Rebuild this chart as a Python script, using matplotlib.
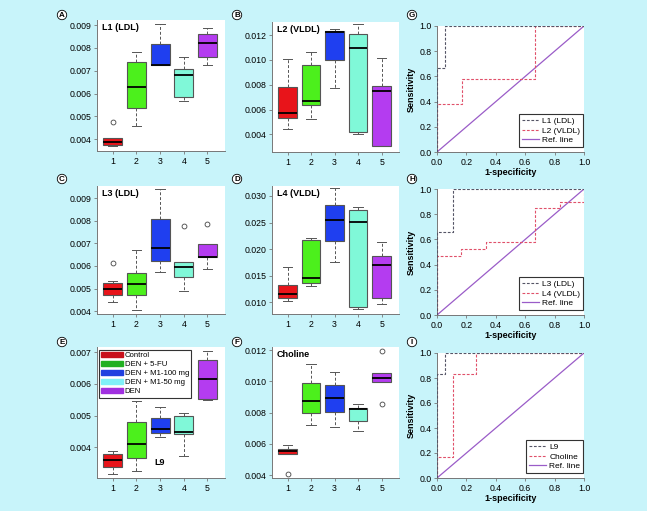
import matplotlib

matplotlib.use("Agg")

import matplotlib.pyplot as plt
from matplotlib.lines import Line2D
from matplotlib.patches import Patch
from matplotlib.ticker import FormatStrFormatter, MultipleLocator

plt.rcParams["font.family"] = ["Liberation Sans", "DejaVu Sans"]

W, H = 647, 511
BG = "#c8f4fa"

GROUPS = ["Control", "DEN + 5-FU", "DEN + M1-100 mg", "DEN + M1-50 mg", "DEN"]
BOX_COLORS = ["#e8141a", "#4cf01c", "#1f3ff0", "#80f8d8", "#b43cf0"]
LEGEND_COLORS = ["#c8101c", "#22b022", "#2040e0", "#80f0f8", "#a030e0"]
POSITIONS = [1, 2, 3, 4, 5]

# box statistics: lower whisker, Q1, median, Q3, upper whisker, outliers
L1_LOW = [0.00371, 0.00460, 0.00724, 0.00569, 0.00724]
L1_Q1 = [0.00375, 0.00536, 0.00725, 0.00585, 0.00759]
L1_MED = [0.00390, 0.00628, 0.00726, 0.00681, 0.00823]
L1_Q3 = [0.00404, 0.00737, 0.00816, 0.00706, 0.00861]
L1_HIGH = [0.00404, 0.00783, 0.00903, 0.00759, 0.00886]
L1_OUT = [[0.00477], [], [], [], []]

L2_LOW = [0.00445, 0.00523, 0.00771, 0.00400, 0.00304]
L2_Q1 = [0.00529, 0.00636, 0.00999, 0.00416, 0.00306]
L2_MED = [0.00569, 0.00671, 0.01222, 0.01098, 0.00749]
L2_Q3 = [0.00784, 0.00958, 0.01235, 0.01208, 0.00792]
L2_HIGH = [0.01004, 0.01060, 0.01248, 0.01286, 0.01012]
L2_OUT = [[], [], [], [], []]

L3_LOW = [0.00441, 0.00406, 0.00575, 0.00488, 0.00586]
L3_Q1 = [0.00473, 0.00470, 0.00622, 0.00550, 0.00640]
L3_MED = [0.00498, 0.00520, 0.00678, 0.00594, 0.00641]
L3_Q3 = [0.00523, 0.00571, 0.00809, 0.00616, 0.00695]
L3_HIGH = [0.00534, 0.00670, 0.00941, 0.00616, 0.00695]
L3_OUT = [[0.00612], [], [], [0.00777], [0.00787]]

L4_LOW = [0.01025, 0.01299, 0.01766, 0.00869, 0.00975]
L4_Q1 = [0.01081, 0.01361, 0.02153, 0.00913, 0.01081]
L4_MED = [0.01156, 0.01455, 0.02539, 0.02502, 0.01704]
L4_Q3 = [0.01330, 0.02171, 0.02838, 0.02745, 0.01879]
L4_HIGH = [0.01660, 0.02215, 0.03150, 0.02794, 0.02140]
L4_OUT = [[], [], [], [], []]

L9_LOW = [0.00318, 0.00327, 0.00433, 0.00372, 0.00548]
L9_Q1 = [0.00339, 0.00368, 0.00444, 0.00442, 0.00554]
L9_MED = [0.00360, 0.00410, 0.00458, 0.00449, 0.00615]
L9_Q3 = [0.00378, 0.00479, 0.00493, 0.00499, 0.00675]
L9_HIGH = [0.00390, 0.00547, 0.00528, 0.00507, 0.00702]
L9_OUT = [[], [], [], [], []]

CHO_LOW = [0.00533, 0.00719, 0.00708, 0.00680, 0.00997]
CHO_Q1 = [0.00537, 0.00800, 0.00802, 0.00744, 0.00997]
CHO_MED = [0.00552, 0.00877, 0.00896, 0.00821, 0.01025]
CHO_Q3 = [0.00569, 0.00993, 0.00980, 0.00832, 0.01057]
CHO_HIGH = [0.00595, 0.01110, 0.01061, 0.00858, 0.01057]
CHO_OUT = [[0.00409], [], [], [], [0.01194, 0.00858]]

# ROC curves (false positive rate, true positive rate)
L1_FPR = [0.0, 0.0, 0.055, 0.055, 1.0]
L1_TPR = [0.0, 0.667, 0.667, 1.0, 1.0]
L2_FPR = [0.0, 0.0, 0.167, 0.167, 0.667, 0.667, 1.0]
L2_TPR = [0.0, 0.377, 0.377, 0.581, 0.581, 1.0, 1.0]
L3_FPR = [0.0, 0.0, 0.107, 0.107, 1.0]
L3_TPR = [0.0, 0.66, 0.66, 1.0, 1.0]
L4_FPR = [0.0, 0.0, 0.166, 0.166, 0.333, 0.333, 0.664, 0.664, 0.834, 0.834, 1.0, 1.0]
L4_TPR = [0.0, 0.471, 0.471, 0.527, 0.527, 0.58, 0.58, 0.846, 0.846, 0.894, 0.894, 1.0]
L9_FPR = [0.0, 0.0, 0.053, 0.053, 1.0]
L9_TPR = [0.0, 0.835, 0.835, 1.0, 1.0]
CHO_FPR = [0.0, 0.0, 0.107, 0.107, 0.265, 0.265, 1.0]
CHO_TPR = [0.0, 0.168, 0.168, 0.835, 0.835, 1.0, 1.0]
REF = [0.0, 1.0]


def px_axes(fig, left, top, right, bottom):
    return fig.add_axes([left / W, 1 - bottom / H, (right - left) / W, (bottom - top) / H])


def style_axes(ax):
    ax.set_facecolor("white")
    for side in ["top", "right"]:
        ax.spines[side].set_visible(False)
    for side in ["left", "bottom"]:
        ax.spines[side].set_color("#777777")
        ax.spines[side].set_linewidth(0.7)
    ax.tick_params(labelsize=6.3, length=2.5, width=0.6, color="#777777", pad=1.5)


def draw_box(ax, low, q1, med, q3, high, out, ylim, step, title=None):
    stats = [
        {"whislo": a, "q1": b, "med": c, "q3": d, "whishi": e, "fliers": f}
        for a, b, c, d, e, f in zip(low, q1, med, q3, high, out)
    ]
    bp = ax.bxp(
        stats,
        positions=POSITIONS,
        widths=0.8,
        patch_artist=True,
        boxprops={"edgecolor": "#555555", "linewidth": 0.8},
        medianprops={"color": "black", "linewidth": 1.3},
        whiskerprops={"color": "#555555", "linestyle": (0, (3, 2)), "linewidth": 0.7},
        capprops={"color": "#555555", "linewidth": 0.7},
        flierprops={"marker": "o", "markerfacecolor": "none", "markeredgecolor": "#444444",
                    "markersize": 3.5, "markeredgewidth": 0.6},
    )
    for patch, color in zip(bp["boxes"], BOX_COLORS):
        patch.set_facecolor(color)
    style_axes(ax)
    ax.set_xlim(0.34, 5.74)
    ax.set_ylim(*ylim)
    ax.set_xticks(POSITIONS)
    ax.yaxis.set_major_locator(MultipleLocator(step))
    ax.yaxis.set_major_formatter(FormatStrFormatter("%.3f"))
    if title:
        ax.text(0.037, 0.975, title, transform=ax.transAxes, ha="left", va="top",
                fontsize=6.5, fontweight="bold")


def draw_roc(ax, fpr_a, tpr_a, label_a, fpr_b, tpr_b, label_b):
    ax.plot(REF, REF, color="#9a5cc8", linewidth=0.9, zorder=2)
    ax.plot(fpr_b, tpr_b, color="#e0506a", linewidth=0.8, dashes=(2.5, 1.5), zorder=3)
    ax.plot(fpr_a, tpr_a, color="#555566", linewidth=0.8, dashes=(2.5, 1.5), zorder=4)
    style_axes(ax)
    ax.set_xlim(0, 1)
    ax.set_ylim(0, 1)
    ax.xaxis.set_major_locator(MultipleLocator(0.2))
    ax.yaxis.set_major_locator(MultipleLocator(0.2))
    ax.xaxis.set_major_formatter(FormatStrFormatter("%.1f"))
    ax.yaxis.set_major_formatter(FormatStrFormatter("%.1f"))
    ax.set_xlabel("1-specificity", fontsize=6.5, fontweight="bold")
    ax.set_ylabel("Sensitivity", fontsize=6.5, fontweight="bold")
    ax.xaxis.set_label_coords(0.5, -0.125)
    ax.yaxis.set_label_coords(-0.145, 0.5)
    handles = [
        Line2D([], [], color="#555566", linewidth=0.8, dashes=(2.5, 1.5)),
        Line2D([], [], color="#e0506a", linewidth=0.8, dashes=(2.5, 1.5)),
        Line2D([], [], color="#9a5cc8", linewidth=0.9),
    ]
    leg = ax.legend(handles, [label_a, label_b, "Ref. line"], loc="lower right",
                    bbox_to_anchor=(0.995, 0.04), borderaxespad=0, fontsize=6,
                    handlelength=2.0, handletextpad=0.4, labelspacing=0.2,
                    borderpad=0.35, fancybox=False, framealpha=1)
    leg.get_frame().set_edgecolor("#333333")
    leg.get_frame().set_linewidth(0.8)


def panel_letter(fig, x, y, letter):
    fig.text(x / W, 1 - y / H, letter, ha="center", va="center", fontsize=5.8, fontweight="bold",
             bbox={"boxstyle": "circle,pad=0.15", "facecolor": "white", "edgecolor": "black",
                   "linewidth": 0.6})


def main() -> None:
    fig = plt.figure(figsize=(W / 100, H / 100), dpi=100, facecolor=BG)

    ax_a = px_axes(fig, 97, 20, 225, 151)
    draw_box(ax_a, L1_LOW, L1_Q1, L1_MED, L1_Q3, L1_HIGH, L1_OUT, (0.00349, 0.00922), 0.001, "L1 (LDL)")
    ax_b = px_axes(fig, 272, 22, 399, 152)
    draw_box(ax_b, L2_LOW, L2_Q1, L2_MED, L2_Q3, L2_HIGH, L2_OUT, (0.00258, 0.01305), 0.002, "L2 (VLDL)")
    ax_c = px_axes(fig, 97, 186, 225, 314)
    draw_box(ax_c, L3_LOW, L3_Q1, L3_MED, L3_Q3, L3_HIGH, L3_OUT, (0.00388, 0.00953), 0.001, "L3 (LDL)")
    ax_d = px_axes(fig, 272, 186, 399, 314)
    draw_box(ax_d, L4_LOW, L4_Q1, L4_MED, L4_Q3, L4_HIGH, L4_OUT, (0.00782, 0.03187), 0.005, "L4 (VLDL)")
    ax_e = px_axes(fig, 97, 347, 225, 478)
    draw_box(ax_e, L9_LOW, L9_Q1, L9_MED, L9_Q3, L9_HIGH, L9_OUT, (0.00304, 0.00716), 0.001)
    ax_e.text(3, 0.00352, "L9", ha="center", va="center", fontsize=6.5, fontweight="bold")
    leg = ax_e.legend(
        [Patch(facecolor=c, edgecolor=c) for c in LEGEND_COLORS], GROUPS,
        loc="upper left", bbox_to_anchor=(0.015, 0.98), borderaxespad=0, fontsize=5.6,
        handlelength=2.8, handleheight=0.65, handletextpad=0.2, labelspacing=0.22,
        borderpad=0.3, fancybox=False, framealpha=1,
    )
    leg.get_frame().set_edgecolor("#333333")
    leg.get_frame().set_linewidth(0.8)
    ax_f = px_axes(fig, 272, 347, 399, 478)
    draw_box(ax_f, CHO_LOW, CHO_Q1, CHO_MED, CHO_Q3, CHO_HIGH, CHO_OUT, (0.00381, 0.01221), 0.002, "Choline")

    ax_g = px_axes(fig, 437, 26, 584, 152)
    draw_roc(ax_g, L1_FPR, L1_TPR, "L1 (LDL)", L2_FPR, L2_TPR, "L2 (VLDL)")
    ax_h = px_axes(fig, 437, 189, 584, 315)
    draw_roc(ax_h, L3_FPR, L3_TPR, "L3 (LDL)", L4_FPR, L4_TPR, "L4 (VLDL)")
    ax_i = px_axes(fig, 437, 353, 584, 478)
    draw_roc(ax_i, L9_FPR, L9_TPR, "L9", CHO_FPR, CHO_TPR, "Choline")

    for x, y, letter in [(62, 15, "A"), (237, 15, "B"), (412, 15, "G"),
                         (62, 179, "C"), (237, 179, "D"), (412, 179, "H"),
                         (62, 342, "E"), (237, 342, "F"), (412, 342, "I")]:
        panel_letter(fig, x, y, letter)

    fig.savefig("out.png", dpi=100, facecolor=BG)
    plt.close(fig)


if __name__ == "__main__":
    main()
